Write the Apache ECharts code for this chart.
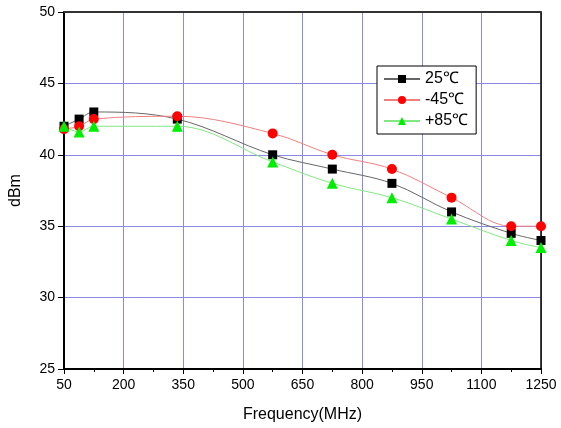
<!DOCTYPE html>
<html>
<head>
<meta charset="utf-8">
<script src="https://cdn.jsdelivr.net/npm/echarts@6/dist/echarts.min.js"></script>
<style>html,body{margin:0;padding:0;background:#fff}#c{width:561px;height:428px}</style>
</head>
<body>
<div id="c"></div>
<script>
var freqs = [50, 88, 125, 335, 575, 725, 875, 1025, 1175, 1250];
var s25 = [42, 42.5, 43, 42.5, 40, 39, 38, 36, 34.5, 34];
var sM45 = [41.8, 42, 42.5, 42.7, 41.5, 40, 39, 37, 35, 35];
var sP85 = [42, 41.6, 42, 42, 39.5, 38, 37, 35.5, 34, 33.5];
var seriesNames = ['25\u2103', '-45\u2103', '+85\u2103'];
var xTicks = [50, 200, 350, 500, 650, 800, 950, 1100, 1250];
var yTicks = [25, 30, 35, 40, 45, 50];

function pairs(v){ return freqs.map(function(f,i){ return [f, v[i]]; }); }
var font = 'Liberation Sans, Arial, sans-serif';
var chart = echarts.init(document.getElementById('c'));
function mk(name, data, sym, size, col, lcol){
  return {name:name, type:'line', data:pairs(data), smooth:0.35, symbol:sym, symbolSize:size,
    itemStyle:{color:col}, lineStyle:{color:lcol, width:1}, z:3};
}
chart.setOption({
  animation:false,
  textStyle:{fontFamily:font, color:'#000'},
  grid:{left:62, top:12, right:20, bottom:59},
  legend:{
    left:377, top:66, orient:'vertical', padding:[5,8,5,6], itemGap:5,
    itemWidth:36, itemHeight:10,
    borderColor:'#000', borderWidth:1, backgroundColor:'#fff',
    textStyle:{fontSize:16, fontFamily:font, color:'#000'},
    data:seriesNames
  },
  xAxis:[{
    type:'value', min:xTicks[0], max:xTicks[xTicks.length-1], interval:150,
    name:'Frequency(MHz)', nameLocation:'middle', nameGap:38,
    nameTextStyle:{fontSize:16, fontFamily:font, color:'#000'},
    axisLine:{lineStyle:{color:'#000', width:2}},
    axisTick:{inside:false, length:5, lineStyle:{color:'#000', width:1}},
    minorTick:{show:true, splitNumber:2, length:3, lineStyle:{color:'#000'}},
    axisLabel:{fontSize:14, color:'#000', margin:9, fontFamily:font, formatter:function(v){return String(v);}},
    splitLine:{show:true, lineStyle:{color:'#8a8ae0', width:1}}
  },{
    type:'value', position:'top', min:50, max:1250,
    axisLine:{show:true, onZero:false, lineStyle:{color:'#333', width:2}},
    axisTick:{show:false}, axisLabel:{show:false}, splitLine:{show:false}
  }],
  yAxis:[{
    type:'value', min:yTicks[0], max:yTicks[yTicks.length-1], interval:5,
    name:'dBm', nameLocation:'middle', nameGap:40, nameRotate:90,
    nameTextStyle:{fontSize:16, fontFamily:font, color:'#000'},
    axisLine:{show:true, lineStyle:{color:'#000', width:2}},
    axisTick:{show:true, inside:false, length:6, lineStyle:{color:'#000', width:1}},
    axisLabel:{fontSize:14, color:'#000', margin:9, fontFamily:font},
    splitLine:{show:true, lineStyle:{color:'#8a8ae0', width:1}}
  },{
    type:'value', position:'right', min:25, max:50,
    axisLine:{show:true, onZero:false, lineStyle:{color:'#000', width:1.5}},
    axisTick:{show:false}, axisLabel:{show:false}, splitLine:{show:false}
  }],
  series:[
    mk(seriesNames[0], s25, 'rect', 9, '#000', '#666'),
    mk(seriesNames[1], sM45, 'circle', 10, '#ff0000', '#f08080'),
    mk(seriesNames[2], sP85, 'triangle', 11, '#00ee00', '#80e880')
  ]
});
</script>
</body>
</html>
